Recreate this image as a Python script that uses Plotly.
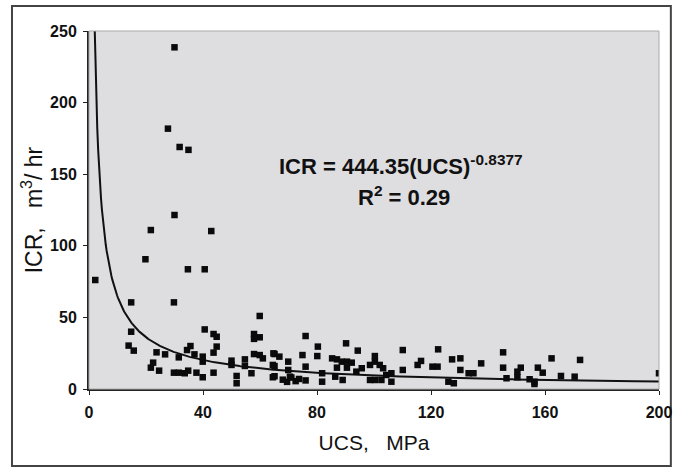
import numpy as np
import plotly.graph_objects as go

ucs = [30.0, 27.7, 31.8, 34.9, 30.0, 21.7, 42.9, 19.8, 34.7, 40.6, 2.2, 14.8, 29.8, 59.9,
       14.8, 40.6, 43.7, 44.8, 57.9, 59.9, 57.9, 13.9, 15.7, 35.6, 34.4, 44.8, 43.7, 23.7,
       26.7, 31.5, 37.0, 39.9, 39.9, 57.9, 59.9, 61.0, 65.1, 50.0, 50.0, 54.7, 54.7, 65.1,
       21.7, 22.5, 24.6, 29.8, 31.5, 33.6, 34.8, 37.7, 39.9, 43.7, 51.8, 51.8, 57.0, 65.1,
       76.0, 64.7, 66.8, 80.3, 80.1, 74.9, 90.2, 94.3, 110.1, 122.5, 100.3, 64.5, 64.5,
       69.9, 69.9, 68.0, 69.5, 71.0, 72.5, 73.7, 70.5, 76.0, 76.0, 85.3, 87.0, 88.7, 90.5,
       92.2, 87.0, 90.5, 81.8, 81.8, 86.4, 89.0, 93.8, 95.7, 98.6, 100.3, 102.0, 103.2,
       98.6, 100.3, 102.6, 104.3, 106.1, 106.1, 110.1, 115.3, 116.5, 120.5, 122.3, 126.1,
       128.0, 127.4, 130.3, 130.3, 137.6, 133.2, 134.9, 145.3, 145.3, 146.5, 150.3, 151.5,
       150.3, 154.6, 156.3, 156.3, 157.5, 159.2, 162.3, 165.6, 170.4, 172.3, 200.0]
icr = [238.6, 181.8, 169.0, 167.0, 121.5, 111.0, 110.3, 90.6, 83.6, 83.6, 76.1, 60.5, 60.5, 51.0,
       40.0, 41.6, 38.4, 36.5, 38.4, 36.1, 35.0, 30.3, 26.8, 30.0, 27.2, 29.6, 25.4, 25.6,
       24.2, 22.1, 24.2, 22.6, 19.1, 24.4, 23.7, 21.4, 24.4, 19.8, 16.8, 20.7, 16.1, 16.0,
       14.9, 18.4, 12.8, 11.4, 11.4, 11.0, 12.8, 11.4, 8.2, 11.4, 9.1, 4.0, 11.0, 8.9,
       37.0, 24.9, 22.6, 29.6, 23.0, 23.7, 31.9, 26.8, 27.2, 27.7, 23.0, 16.8, 8.2,
       19.1, 13.3, 6.5, 5.0, 8.0, 5.5, 7.0, 8.6, 15.6, 6.0, 21.4, 20.7, 19.1, 19.1,
       18.4, 14.9, 14.9, 11.0, 5.1, 8.6, 6.3, 12.1, 14.5, 16.8, 19.1, 16.8, 14.5,
       6.3, 6.3, 6.3, 9.8, 11.0, 5.1, 13.3, 16.8, 19.6, 15.6, 15.6, 5.1,
       4.0, 20.7, 21.4, 13.3, 17.9, 11.0, 11.0, 25.6, 14.9, 7.5, 12.1, 14.9,
       8.2, 6.8, 5.1, 3.5, 14.9, 11.4, 21.4, 9.1, 8.6, 20.3, 11.0]

coef_a = 444.35
coef_b = -0.8377
x_ticks = [0, 40, 80, 120, 160, 200]
y_ticks = [0, 50, 100, 150, 200, 250]

xf = np.linspace(1.9, 200, 600)
yf = coef_a * xf ** coef_b

FONT = "Liberation Sans, Arial"
fig = go.Figure()
fig.add_trace(go.Scatter(x=xf, y=yf, mode="lines",
                         line=dict(color="#111111", width=2), hoverinfo="skip"))
fig.add_trace(go.Scatter(x=ucs, y=icr, mode="markers",
                         marker=dict(symbol="square", size=6.5, color="#0a0a0a")))

tickfont = dict(family=FONT, size=16, color="#111111")
fig.update_layout(
    width=684, height=470,
    margin=dict(l=89, r=18, t=31, b=81),
    paper_bgcolor="white",
    plot_bgcolor="#dedee1",
    showlegend=False,
    xaxis=dict(range=[0, 200], tickvals=x_ticks, ticktext=[f"<b>{v}</b>" for v in x_ticks],
               showgrid=False, zeroline=False, showline=True, linecolor="#222222", linewidth=2,
               ticks="outside", ticklen=4, tickcolor="#222222", tickfont=tickfont,
               ticklabelstandoff=4,
               title=dict(text="UCS,\u00a0\u00a0\u00a0MPa", font=dict(family=FONT, size=21, color="#111111"), standoff=15)),
    yaxis=dict(range=[0, 250], tickvals=y_ticks, ticktext=[f"<b>{v}</b>" for v in y_ticks],
               showgrid=False, zeroline=False, showline=True, linecolor="#222222", linewidth=2,
               ticks="outside", ticklen=4, tickcolor="#222222", tickfont=tickfont,
               ticklabelstandoff=3,
               title=dict(text="ICR,\u00a0\u00a0\u00a0m<sup>3</sup>/\u00a0hr", font=dict(family=FONT, size=23, color="#111111"), standoff=1)),
)

fig.add_annotation(x=0.548, y=0.626, xref="paper", yref="paper", showarrow=False,
                   text="<b>ICR = 444.35(UCS)<sup>-0.8377</sup></b>",
                   font=dict(family=FONT, size=22, color="#111111"))
fig.add_annotation(x=0.552, y=0.539, xref="paper", yref="paper", showarrow=False,
                   text="<b>R<sup>2</sup> = 0.29</b>",
                   font=dict(family=FONT, size=22, color="#111111"))

# outer frame
fig.add_shape(type="rect", xref="paper", yref="paper",
              x0=-0.1351, x1=1.0208, y0=-0.215, y1=1.0698,
              line=dict(color="#444444", width=2), layer="below")
fig.add_shape(type="rect", xref="paper", yref="paper", x0=0, x1=1, y0=0, y1=1,
              line=dict(color="#aaaaaa", width=1))

fig.write_html("out.html")
